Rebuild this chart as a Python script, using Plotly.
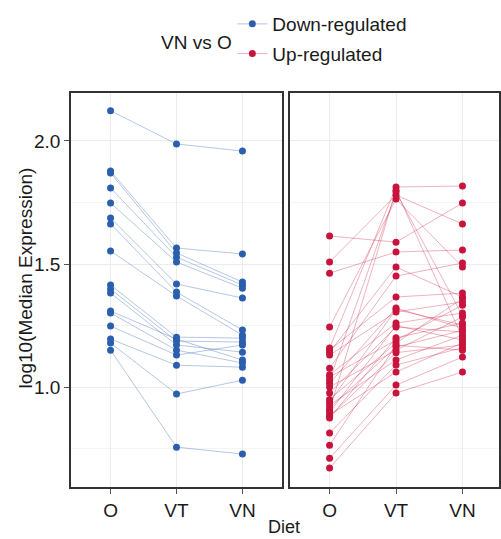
import plotly.graph_objects as go

diets = ["O", "VT", "VN"]

down_O  = [2.123, 1.878, 1.870, 1.809, 1.748, 1.687, 1.663, 1.553, 1.415, 1.398, 1.382, 1.309, 1.301, 1.248, 1.195, 1.179, 1.150]
down_VT = [1.988, 1.565, 1.545, 1.528, 1.508, 1.419, 1.386, 1.370, 1.203, 1.187, 1.171, 1.195, 1.150, 1.130, 1.089, 0.972, 0.756]
down_VN = [1.959, 1.541, 1.427, 1.415, 1.402, 1.362, 1.232, 1.211, 1.199, 1.183, 1.142, 1.110, 1.098, 1.171, 1.081, 1.028, 0.728]

up_O  = [1.614, 1.508, 1.463, 1.244, 1.159, 1.150, 1.142, 1.130, 1.077, 1.050, 1.041, 1.028, 1.016, 1.000,
         0.976, 0.950, 0.939, 0.927, 0.915, 0.905, 0.898, 0.886, 0.874, 0.880, 0.813, 0.764, 0.711, 0.671]
up_VT = [1.589, 1.780, 1.549, 1.764, 1.813, 1.366, 1.488, 1.305, 1.451, 1.260, 1.191, 1.793, 1.321, 1.150,
         1.244, 1.179, 1.315, 1.110, 1.163, 1.800, 1.250, 1.061, 1.200, 1.140, 1.090, 1.170, 1.008, 0.976]
up_VN = [1.748, 1.663, 1.557, 1.488, 1.817, 1.382, 1.366, 1.346, 1.504, 1.301, 1.333, 1.290, 1.240, 1.285,
         1.224, 1.360, 1.252, 1.211, 1.230, 1.200, 1.191, 1.180, 1.260, 1.171, 1.160, 1.150, 1.122, 1.061]

y_ticks = [1.0, 1.5, 2.0]
y_tick_labels = ["1.0", "1.5", "2.0"]

DOWN_C = "#2B5FAE"
UP_C = "#C8143C"
FONT = "Liberation Sans, Arial, sans-serif"
TXT = "#1a1a1a"


def paths(o, vt, vn):
    xs, ys = [], []
    for a, b, c in zip(o, vt, vn):
        xs += diets + [None]
        ys += [a, b, c, None]
    return xs, ys


fig = go.Figure()
xd, yd = paths(down_O, down_VT, down_VN)
fig.add_trace(go.Scatter(
    x=xd, y=yd, mode="lines+markers", name="Down-regulated", legendgroup="d",
    line=dict(color="rgba(43,95,174,0.35)", width=1),
    marker=dict(color=DOWN_C, size=7), xaxis="x", yaxis="y"))
xu, yu = paths(up_O, up_VT, up_VN)
fig.add_trace(go.Scatter(
    x=xu, y=yu, mode="lines+markers", name="Up-regulated", legendgroup="u",
    line=dict(color="rgba(200,20,60,0.33)", width=1),
    marker=dict(color=UP_C, size=7), xaxis="x2", yaxis="y2"))

yr = [0.594, 2.195]
common_x = dict(
    type="category", categoryorder="array", categoryarray=diets,
    showline=True, mirror=True, linecolor="#333333", linewidth=1.5,
    showgrid=True, gridcolor="#ececec", gridwidth=1,
    ticks="outside", ticklen=5, tickcolor="#555555",
    tickfont=dict(family=FONT, size=19, color=TXT), zeroline=False)
common_y = dict(
    range=yr, showline=True, mirror=True, linecolor="#333333", linewidth=1.5,
    showgrid=True, gridcolor="#ececec", gridwidth=1,
    minor=dict(dtick=0.25, tick0=0.75, showgrid=True, gridcolor="#f4f4f4", ticks=""),
    tickmode="array", tickvals=y_ticks, ticktext=y_tick_labels, zeroline=False)

fig.update_layout(
    width=501, height=539,
    margin=dict(l=71, r=0, t=93, b=52),
    paper_bgcolor="white", plot_bgcolor="white",
    font=dict(family=FONT, color=TXT),
    xaxis=dict(domain=[0, 0.493], anchor="y", range=[-0.6, 2.6], **common_x),
    xaxis2=dict(domain=[0.511, 1.0], anchor="y2", range=[-0.6, 2.55], **common_x),
    yaxis=dict(anchor="x", ticks="outside", ticklen=5, tickcolor="#555555",
               tickfont=dict(family=FONT, size=19, color=TXT),
               **common_y),
    yaxis2=dict(anchor="x2", matches="y", showticklabels=False, ticks="", **common_y),
    showlegend=True,
    legend=dict(x=0.377, y=0.9907, xref="paper", yref="container",
                xanchor="left", yanchor="top",
                font=dict(family=FONT, size=19, color=TXT),
                tracegroupgap=2, itemwidth=30, bgcolor="rgba(0,0,0,0)"),
    annotations=[
        dict(text="VN vs O", x=0.293, y=1.127, xref="paper", yref="paper",
             showarrow=False, xanchor="center", yanchor="middle",
             font=dict(family=FONT, size=19, color=TXT)),
        dict(text="log10(Median Expression)", x=-0.107, y=0.53, xref="paper", yref="paper",
             showarrow=False, xanchor="center", yanchor="middle", textangle=-90,
             font=dict(family=FONT, size=19, color=TXT)),
        dict(text="Diet", x=0.497, y=-0.1015, xref="paper", yref="paper",
             showarrow=False, xanchor="center", yanchor="middle",
             font=dict(family=FONT, size=18, color=TXT)),
    ],
)

fig.write_html(
    "out.html",
    config={"displayModeBar": False},
    post_script="document.body.style.margin='0';document.body.style.overflow='hidden';",
)
